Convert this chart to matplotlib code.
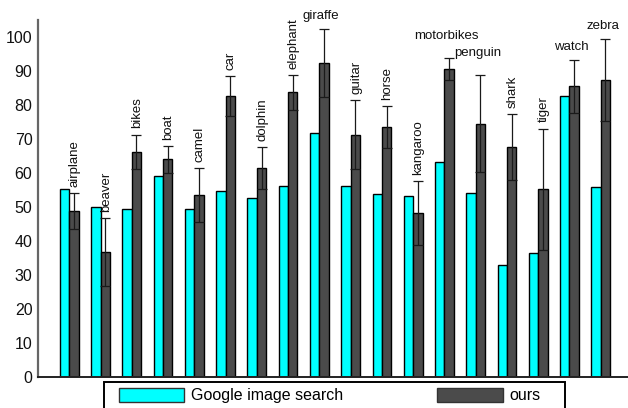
import matplotlib
matplotlib.use("Agg")
import matplotlib.pyplot as plt
import numpy as np
from matplotlib.patches import Rectangle, Patch

plt.rcParams['font.family'] = ['Liberation Sans', 'DejaVu Sans']

categories = ["airplane", "beaver", "bikes", "boat", "camel", "car", "dolphin",
              "elephant", "giraffe", "guitar", "horse", "kangaroo", "motorbikes",
              "penguin", "shark", "tiger", "watch", "zebra"]
google = [55.2, 50.0, 49.4, 59.0, 49.3, 54.7, 52.6, 56.0, 71.6, 56.2, 53.6,
          53.2, 63.2, 53.9, 32.9, 36.3, 82.6, 55.7]
ours = [48.7, 36.7, 66.2, 63.9, 53.4, 82.6, 61.3, 83.6, 92.2, 71.2, 73.4,
        48.1, 90.4, 74.4, 67.6, 55.1, 85.4, 87.3]
ours_err = [5.3, 9.9, 5.0, 4.0, 8.0, 5.9, 6.2, 5.1, 10.0, 10.1, 6.2,
            9.4, 3.2, 14.2, 9.7, 17.9, 7.7, 12.0]
yticks = [0, 10, 20, 30, 40, 50, 60, 70, 80, 90, 100]

# labels written horizontally above the bar, with their vertical gap (points)
flat_labels = {"giraffe": 5, "motorbikes": 11.5, "penguin": 11.5, "watch": 5, "zebra": 5}

CYAN = "#00FFFF"
DARK = "#4B4B4B"

fig = plt.figure(figsize=(6.28, 4.08), dpi=100)
ax = fig.add_axes([38 / 628, 31.3 / 408, 594 / 628, 357 / 408])

x = np.arange(1, len(categories) + 1)
w = 0.3
ax.bar(x - w / 2, google, width=w, color=CYAN, edgecolor="black", linewidth=1.0, zorder=2)
ax.bar(x + w / 2, ours, width=w, color=DARK, edgecolor="black", linewidth=1.0, zorder=2)
ax.errorbar(x + w / 2, ours, yerr=ours_err, fmt="none", ecolor="#1a1a1a",
            elinewidth=0.9, capsize=3.3, capthick=0.9, zorder=3)

for xi, name, m, e in zip(x, categories, ours, ours_err):
    top = m + e
    if name in flat_labels:
        ax.annotate(name, (xi + w / 2, top), xytext=(-2, flat_labels[name]),
                    textcoords="offset points", ha="center", va="bottom",
                    fontsize=9.5, color="#111111", annotation_clip=False)
    else:
        ax.annotate(name, (xi + w / 2, top), xytext=(0.5, 4.5),
                    textcoords="offset points", ha="center", va="bottom",
                    rotation=90, fontsize=9.5, color="#111111", annotation_clip=False)

ax.set_xlim(0, 19)
ax.set_ylim(0, 105)
ax.set_yticks(yticks)
ax.set_xticks([])
ax.tick_params(axis="y", length=0, pad=4, labelsize=11.5, labelcolor="#111111")
ax.spines["top"].set_visible(False)
ax.spines["right"].set_visible(False)
ax.spines["left"].set_color("#666666")
ax.spines["left"].set_linewidth(1.6)
ax.spines["bottom"].set_color("#222222")
ax.spines["bottom"].set_linewidth(1.4)

# legend frame and entries along the bottom edge
fig.patches.append(Rectangle((104 / 628, -0.05), (565 - 104) / 628, (408 - 381.7) / 408 + 0.05,
                             transform=fig.transFigure, fill=False,
                             edgecolor="black", linewidth=1.4))
handles = [Patch(facecolor=CYAN, edgecolor="#333333", linewidth=1.0),
           Patch(facecolor=DARK, edgecolor="#333333", linewidth=1.0)]
fig.legend(handles, ["Google image search", "ours"], ncol=2, frameon=False,
           loc="center left", bbox_to_anchor=(111 / 628, 1 - 395.5 / 408),
           fontsize=11.5, handlelength=4.1, handleheight=0.95,
           handletextpad=0.4, columnspacing=5.9, borderpad=0.0)

fig.savefig("out.png", dpi=100)
